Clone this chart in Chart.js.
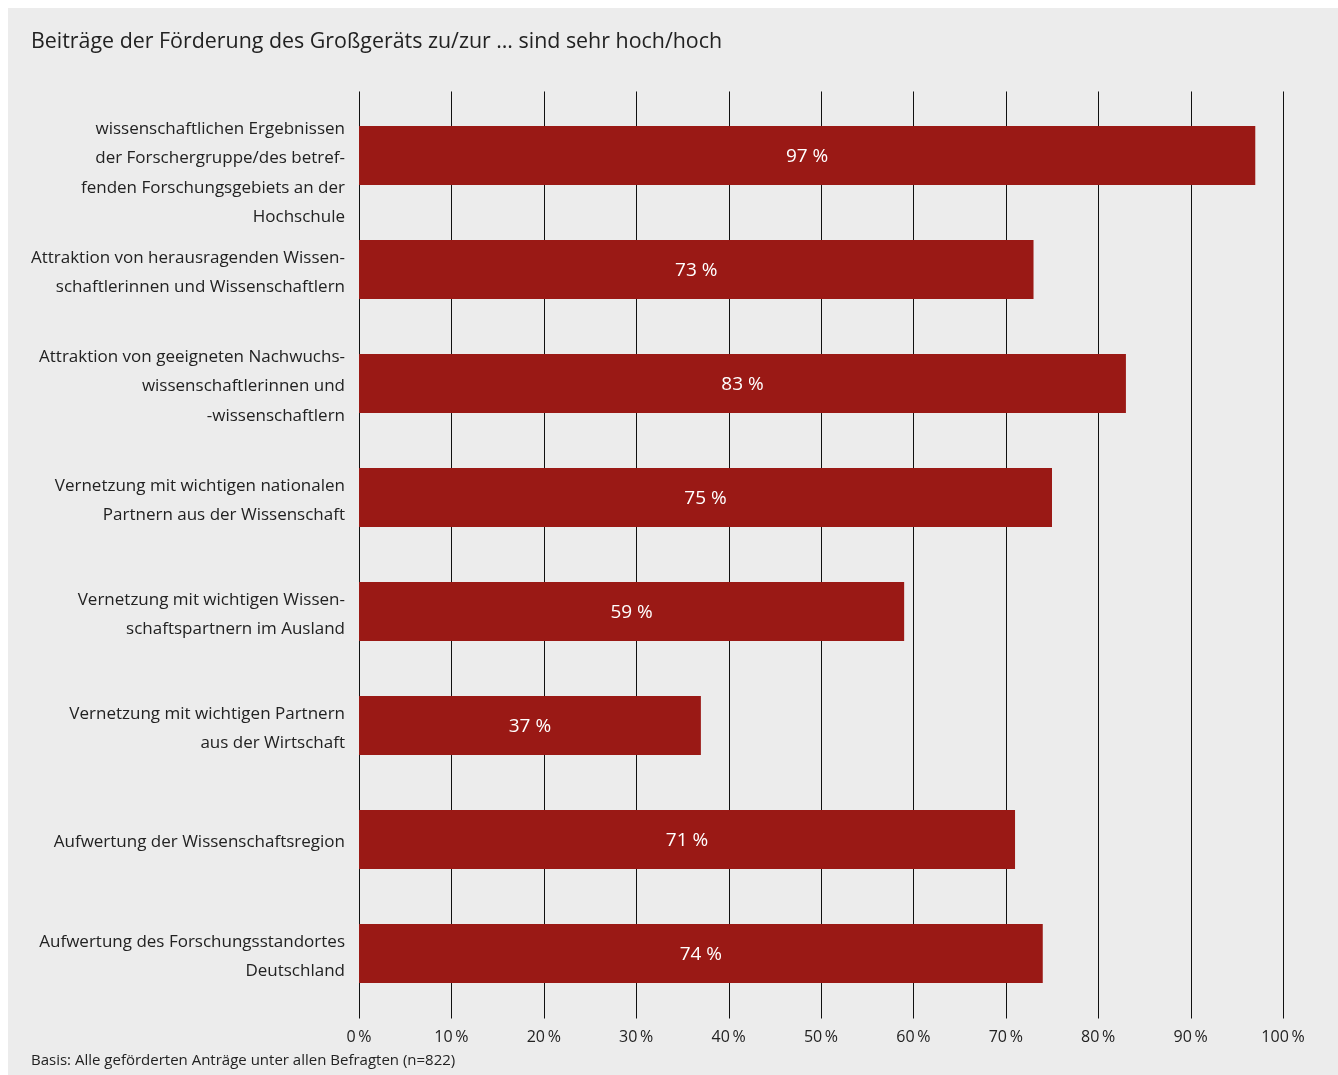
<!DOCTYPE html>
<html lang="de">
<head>
<meta charset="utf-8">
<title>Beiträge der Förderung des Großgeräts</title>
<script src="https://cdn.jsdelivr.net/npm/chart.js@4/dist/chart.umd.min.js"></script>
<style>
  html, body {
    margin: 0;
    padding: 0;
    background: #ffffff;
  }
  .panel {
    position: absolute;
    left: 8px;
    top: 8px;
    width: 1330px;
    height: 1067px;
    background: #ececec;
  }
  canvas {
    display: block;
  }
</style>
</head>
<body>
<div class="panel">
  <canvas id="chart" width="1330" height="1067"></canvas>
</div>
<script>
const FONT = "'Open Sans', 'Noto Sans', sans-serif";
const TEXT_COLOR = "#222222";
const BAR_COLOR = "#9a1915";

const titleText = "Beiträge der Förderung des Großgeräts zu/zur … sind sehr hoch/hoch";
const footnoteText = "Basis: Alle geförderten Anträge unter allen Befragten (n=822)";

const categories = [
  ["", "wissenschaftlichen Ergebnissen", "der Forschergruppe/des betref-", "fenden Forschungsgebiets an der", "Hochschule"],
  ["Attraktion von herausragenden Wissen-", "schaftlerinnen und Wissenschaftlern"],
  ["Attraktion von geeigneten Nachwuchs-", "wissenschaftlerinnen und", "-wissenschaftlern"],
  ["Vernetzung mit wichtigen nationalen", "Partnern aus der Wissenschaft"],
  ["Vernetzung mit wichtigen Wissen-", "schaftspartnern im Ausland"],
  ["Vernetzung mit wichtigen Partnern", "aus der Wirtschaft"],
  "Aufwertung der Wissenschaftsregion",
  ["Aufwertung des Forschungsstandortes", "Deutschland"],
];

const shareHigh = [97, 73, 83, 75, 59, 37, 71, 74];

const xTicks = [0, 10, 20, 30, 40, 50, 60, 70, 80, 90, 100];

const tickPct = (v) => `${v}\u2009%`;
const barPct = (v) => `${v} %`;

// vertical grid lines, a little longer than the plot area at both ends
const gridLines = {
  id: "gridLines",
  beforeDatasetsDraw(chart) {
    const { ctx, chartArea, scales } = chart;
    ctx.save();
    ctx.strokeStyle = "#111111";
    ctx.lineWidth = 1;
    xTicks.forEach((t) => {
      const x = Math.round(scales.x.getPixelForValue(t)) + 0.5;
      ctx.beginPath();
      ctx.moveTo(x, chartArea.top - 7);
      ctx.lineTo(x, chartArea.bottom + 8);
      ctx.stroke();
    });
    ctx.restore();
  },
};

// white value label in the middle of each bar
const barLabels = {
  id: "barLabels",
  afterDatasetsDraw(chart) {
    const { ctx } = chart;
    const meta = chart.getDatasetMeta(0);
    ctx.save();
    ctx.fillStyle = "#ffffff";
    ctx.font = `19px ${FONT}`;
    ctx.textAlign = "center";
    ctx.textBaseline = "middle";
    meta.data.forEach((bar, i) => {
      const x = (bar.x + bar.base) / 2;
      ctx.fillText(barPct(shareHigh[i]), x, bar.y + 1);
    });
    ctx.restore();
  },
};

const ctx = document.getElementById("chart").getContext("2d");
new Chart(ctx, {
  type: "bar",
  data: {
    labels: categories,
    datasets: [
      {
        data: shareHigh,
        backgroundColor: BAR_COLOR,
        borderWidth: 0,
        categoryPercentage: 1,
        barPercentage: 0.5175,
      },
    ],
  },
  options: {
    indexAxis: "y",
    responsive: false,
    animation: false,
    layout: {
      padding: { left: 23, right: 55, top: 0, bottom: 0 },
    },
    plugins: {
      legend: { display: false },
      tooltip: { enabled: false },
      title: {
        display: true,
        text: titleText,
        align: "start",
        color: TEXT_COLOR,
        font: { family: FONT, size: 21.4, weight: "normal", lineHeight: 1.2 },
        padding: { top: 21, bottom: 43.8 },
      },
      subtitle: {
        display: true,
        position: "bottom",
        text: footnoteText,
        align: "start",
        color: TEXT_COLOR,
        font: { family: FONT, size: 15, weight: "normal", lineHeight: 1.2 },
        padding: { top: 5.3, bottom: 5 },
      },
    },
    scales: {
      x: {
        min: 0,
        max: 100,
        border: { display: false },
        grid: { display: false, drawTicks: false },
        afterBuildTicks: (scale) => {
          scale.ticks = xTicks.map((value) => ({ value }));
        },
        afterFit: (scale) => {
          // padding once above the labels, none below them
          scale.height = 17 + 19.2;
        },
        ticks: {
          color: TEXT_COLOR,
          padding: 17,
          autoSkip: false,
          maxRotation: 0,
          font: { family: FONT, size: 16, lineHeight: 1.2 },
          callback: (value) => tickPct(value),
        },
      },
      y: {
        border: { display: false },
        grid: { display: false, drawTicks: false },
        afterFit: (scale) => {
          // the tall multi-line labels should not squeeze the plot area
          scale.width = 328;
          scale.paddingTop = 0;
          scale.paddingBottom = 0;
        },
        ticks: {
          color: TEXT_COLOR,
          padding: 14,
          autoSkip: false,
          labelOffset: 3,
          font: { family: FONT, size: 17, lineHeight: 1.72 },
        },
      },
    },
  },
  plugins: [gridLines, barLabels],
});
</script>
</body>
</html>
